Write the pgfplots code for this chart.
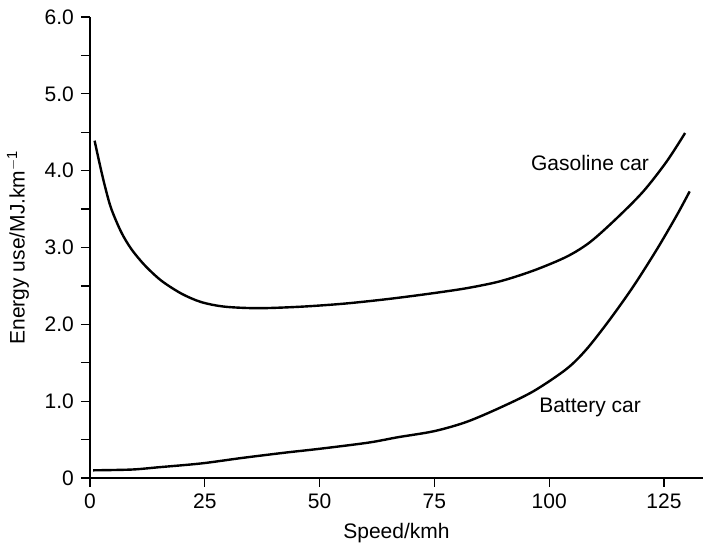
\documentclass[border=0pt]{standalone}
\usepackage{fontspec}
\setmainfont{Liberation Sans}
\usepackage{pgfplots}
\pgfplotsset{compat=1.18}

\begin{document}
\fontsize{21}{24}\selectfont
\begin{tikzpicture}
\useasboundingbox (-90pt,-67pt) rectangle (615pt,478pt);
\begin{axis}[
  at={(0,0)}, anchor=south west,
  scale only axis, width=613pt, height=461pt,
  xmin=0, xmax=133.5, ymin=0, ymax=6,
  axis lines=left, axis line style={line width=1.2pt, -},
  xtick={0,25,50,75,100,125},
  ytick={0,1,2,3,4,5,6},
  yticklabels={0,1.0,2.0,3.0,4.0,5.0,6.0},
  minor ytick={0.5,1.5,2.5,3.5,4.5,5.5},
  tick align=outside,
  major tick length=9pt, minor tick length=9pt,
  tick style={line width=1.2pt, black},
  tick label style={font=\fontsize{21}{24}\selectfont},
  /pgf/number format/assume math mode=true,
  xlabel={Speed/kmh},
  ylabel={Energy use/MJ.km\textsuperscript{$-$1}},
  label style={font=\fontsize{21}{24}\selectfont},
  xlabel style={at={(axis description cs:0.5,-0.119)}, anchor=center},
  ylabel style={at={(axis description cs:-0.1175,0.5)}, anchor=center},
  clip=false,
]
% gasoline car
\addplot[black, line width=2.4pt, smooth, tension=0.5] coordinates {
(1.0,4.39) (2.1,4.09) (3.2,3.81) (4.6,3.51) (6.8,3.20) (9.0,2.98)
(11.9,2.77) (15.5,2.57) (19.9,2.40) (24.2,2.29) (29.3,2.23) (36.7,2.21)
(46.1,2.23) (55.5,2.27) (65,2.33) (74.1,2.40) (82,2.47) (89.3,2.56)
(96.6,2.70) (103.8,2.88) (108.9,3.07) (114.7,3.38) (120.5,3.73)
(125.6,4.12) (129.6,4.49)
};
% battery car
\addplot[black, line width=2.4pt, smooth, tension=0.5] coordinates {
(0.7,0.10) (9.1,0.11) (15,0.14) (24.3,0.19) (33,0.26) (42.5,0.33)
(50,0.38) (60.6,0.46) (67,0.53) (75,0.61) (82,0.73) (89.3,0.915)
(96.6,1.13) (103.8,1.42) (108.2,1.68) (113.3,2.07) (118.4,2.50)
(123.5,2.98) (127.8,3.42) (130.6,3.73)
};
\node[font=\fontsize{21}{24}\selectfont] at (axis cs:108.9,4.10) {Gasoline car};
\node[font=\fontsize{21}{24}\selectfont] at (axis cs:108.9,0.92) {Battery car};
\end{axis}
\end{tikzpicture}
\end{document}
